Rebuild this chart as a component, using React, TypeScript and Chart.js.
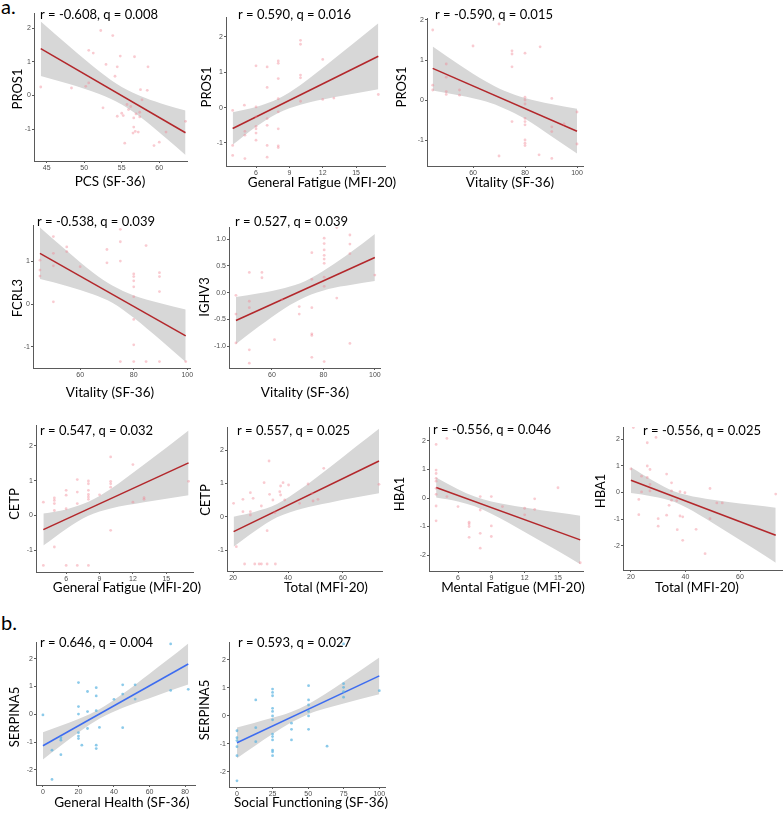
import React, { useEffect, useRef } from "react";
import { Chart, registerables } from "chart.js";

Chart.register(...registerables);

// ---------- Panel 1: PROS1 vs PCS (SF-36) ----------
const p1X = [44.2, 48.3, 50.2, 50.6, 50.6, 51.2, 52.2, 53.8, 52.9, 54.4, 54.8, 54.1, 56.7, 52.5, 54.4, 55.0, 55.2, 55.9, 55.7, 55.4, 56.2, 56.6, 56.6, 56.8, 56.5, 57.2, 57.4, 57.7, 57.5, 58.4, 58.5, 57.4, 59.3, 60.0, 60.9, 63.5, 56.9];
const p1Y = [0.25, 0.22, 0.27, 0.37, 1.34, 1.26, 1.93, 1.78, 0.92, 0.85, 1.17, 0.57, 1.15, -0.37, -0.62, -0.53, -0.6, -0.42, -0.27, -1.42, -0.33, -0.67, -0.94, -1.07, -1.12, -1.09, -0.64, -0.13, 0.17, 0.15, 0.85, -0.5, -1.49, -1.39, -1.09, -0.77, -0.55];
const p1LineX = [44.2, 63.5];
const p1LineY = [1.39, -1.11];
const p1BandX = [44.2, 48, 52, 55, 58, 61, 63.5];
const p1BandU = [2.2, 1.46, 0.72, 0.25, -0.06, -0.29, -0.45];
const p1BandL = [0.58, 0.34, 0.04, -0.27, -0.73, -1.29, -1.77];

// ---------- Panel 2: PROS1 vs General Fatigue (MFI-20) ----------
const p2X = [3.9, 3.9, 3.9, 4.95, 5, 5, 5, 6, 6, 6, 6, 6, 6, 6, 7, 7, 7, 7, 7, 7, 8, 8, 8, 8, 8, 8, 8, 8, 10, 10, 10, 10, 10, 12, 12, 13, 17];
const p2Y = [-0.08, -1.07, -1.35, 0.07, -0.67, -0.78, -1.44, 1.18, 0.02, -0.26, -0.53, -0.6, -0.72, -0.92, 1.15, 0.57, -0.31, -0.5, -1.07, -1.4, 1.32, 1.25, 0.82, 0.25, -0.12, -0.6, -1.08, -1.13, 1.9, 1.79, 0.92, 0.84, 0.18, 1.36, 0.23, 0.27, 0.37];
const p2LineX = [3.9, 17];
const p2LineY = [-0.59, 1.45];
const p2BandX = [3.9, 6, 8, 10, 13, 17];
const p2BandU = [-0.13, 0.02, 0.25, 0.64, 1.37, 2.38];
const p2BandL = [-1.05, -0.54, -0.15, 0.08, 0.29, 0.52];

// ---------- Panel 3: PROS1 vs Vitality (SF-36) ----------
const p3X = [44.5, 44.5, 44.5, 49.7, 49.7, 49.7, 49.7, 54.8, 54.8, 60, 70, 70, 75, 75, 75, 75, 80, 80, 80, 80, 80, 80, 80, 80, 80, 80, 85.8, 85.4, 90.3, 90.3, 90.3, 90.3, 95, 100, 100];
const p3Y = [1.75, 0.37, 0.25, 0.9, 0.57, 0.21, 0.14, 0.25, 0.12, 1.35, 1.9, -1.4, 1.23, 1.15, 0.83, -0.54, 1.17, 0.07, 0.0, -0.1, -0.46, -0.54, -0.62, -1.0, -1.08, -1.14, 1.33, -1.37, 0.04, -0.67, -0.79, -1.46, -0.6, -0.3, -1.1];
const p3LineX = [44.5, 100];
const p3LineY = [0.79, -0.78];
const p3BandX = [44.5, 55, 65, 72, 80, 90, 100];
const p3BandU = [1.34, 0.87, 0.46, 0.23, 0.05, -0.1, -0.22];
const p3BandL = [0.24, 0.11, -0.04, -0.21, -0.47, -0.9, -1.34];

// ---------- Panel 4: FCRL3 vs Vitality (SF-36) ----------
const p4X = [45, 45, 45, 50, 50, 50, 50, 55, 55, 60, 70, 70, 75, 75, 75, 75, 80, 80, 80, 80, 80, 80, 80, 80, 84.6, 84.6, 89.6, 89.6, 89.6, 89.6, 99.4];
const p4Y = [1.02, 0.79, 0.65, 1.57, 1.18, 0.89, 0.05, 1.33, 1.22, 0.87, 1.27, 0.96, 1.74, 1.45, 1.0, -1.34, 0.7, 0.64, 0.54, 0.4, 0.17, -0.36, -0.95, -1.34, 1.36, -1.34, 0.73, 0.64, 0.29, -1.34, -1.34];
const p4LineX = [45, 99.4];
const p4LineY = [1.18, -0.74];
const p4BandX = [45, 55, 65, 72, 80, 90, 99.4];
const p4BandU = [1.78, 1.24, 0.72, 0.43, 0.2, 0.02, -0.13];
const p4BandL = [0.58, 0.42, 0.22, 0.03, -0.32, -0.84, -1.35];

// ---------- Panel 5: IGHV3 vs Vitality (SF-36) ----------
const p5X = [46, 46, 46, 51.2, 51.2, 51.2, 51.2, 51.2, 56.1, 56.1, 61, 63.9, 70.6, 70.6, 75.5, 75.5, 75.5, 75.5, 75.5, 75.5, 80.3, 80.3, 80.3, 80.3, 80.3, 80.3, 80.3, 80.3, 80.3, 85.2, 85.2, 90.3, 90.3, 90.3, 90.3, 100];
const p5Y = [-0.05, -0.4, -0.94, 0.38, -0.16, -0.28, -1.07, -1.32, 0.38, 0.28, -0.88, -0.13, -0.26, -0.4, 0.75, 0.25, -0.28, -0.77, -0.8, -1.21, 1.02, 0.92, 0.8, 0.7, 0.63, 0.55, 0.29, 0.12, -1.29, 1.22, -0.1, 1.08, 0.91, 0.73, -0.95, 0.33];
const p5LineX = [46, 100];
const p5LineY = [-0.52, 0.66];
const p5BandX = [46, 55, 65, 73, 82, 91, 100];
const p5BandU = [-0.08, -0.01, 0.09, 0.22, 0.47, 0.77, 1.1];
const p5BandL = [-0.96, -0.63, -0.29, -0.08, 0.07, 0.15, 0.22];

// ---------- Panel 6: CETP vs General Fatigue (MFI-20) ----------
const p6X = [3.95, 3.95, 4.94, 4.94, 4.94, 4.94, 4.94, 6, 6, 6, 6, 7, 7, 7, 7, 8, 8, 8, 8, 8, 8, 8, 9, 10, 10, 10, 10, 10, 12, 12, 13, 13, 17];
const p6Y = [0.38, -1.44, 0.5, 0.43, 0.34, 0.14, -0.91, 0.72, 0.58, 0.19, -1.44, 1.03, 0.67, 0.34, -1.44, 0.99, 0.91, 0.72, 0.6, 0.53, 0.46, -1.44, 0.59, 1.68, 0.98, 0.91, 0.81, -0.43, 1.46, 0.38, 0.51, 0.46, 0.98];
const p6LineX = [3.95, 17];
const p6LineY = [-0.41, 1.51];
const p6BandX = [3.95, 6, 8, 10, 13, 17];
const p6BandU = [0.05, 0.17, 0.39, 0.76, 1.46, 2.44];
const p6BandL = [-0.87, -0.39, -0.01, 0.2, 0.38, 0.58];

// ---------- Panel 7: CETP vs Total (MFI-20) ----------
const p7X = [20.2, 21.2, 23.6, 23.6, 24.2, 26.3, 26.3, 26.3, 27.3, 27.9, 29.5, 30.3, 30.3, 31.3, 32.4, 32.4, 33.1, 33.3, 34.5, 35.2, 35.4, 37, 37.3, 37.3, 38.2, 38.8, 40.2, 44.2, 47.3, 48.8, 49.1, 50.9, 53, 73.1];
const p7Y = [0.4, -0.9, 0.52, 0.15, -1.42, 0.72, 0.15, 0.05, 0.55, -1.42, -1.42, -1.42, 0.32, 1.02, -0.42, -1.42, 1.67, 0.67, 0.5, 0.12, -1.42, 0.75, 0.92, 0.65, 1.02, 0.5, 0.95, 0.4, 0.98, 0.7, 0.47, 0.52, 1.45, 0.97];
const p7LineX = [20.2, 73.1];
const p7LineY = [-0.45, 1.67];
const p7BandX = [20.2, 28, 36, 45, 55, 65, 73.1];
const p7BandU = [0.0, 0.15, 0.38, 0.85, 1.47, 2.12, 2.64];
const p7BandL = [-0.9, -0.43, -0.02, 0.24, 0.42, 0.58, 0.7];

// ---------- Panel 8: HBA1 vs Mental Fatigue (MFI-20) ----------
const p8X = [4.03, 4.03, 4.03, 4.03, 4.03, 4.03, 4.03, 4.03, 4.03, 5, 5, 6, 7, 7, 7, 7, 8, 8, 8, 8, 9, 9, 9, 10, 12, 12, 12.9, 12.9, 15, 17];
const p8Y = [1.88, 0.98, 0.86, 0.69, 0.59, 0.34, 0.13, -0.28, -0.8, 2.09, 0.05, -0.3, -0.85, -0.91, -1.0, -1.38, 0.05, -0.42, -1.24, -1.76, 0.05, -0.98, -1.35, -0.3, -0.36, -0.59, -0.03, -0.4, 0.36, -2.27];
const p8LineX = [4.03, 17];
const p8LineY = [0.37, -1.47];
const p8BandX = [4.03, 6, 7.5, 9, 12, 15, 17];
const p8BandU = [0.72, 0.31, 0.05, -0.12, -0.33, -0.51, -0.62];
const p8BandL = [0.02, -0.12, -0.29, -0.55, -1.19, -1.86, -2.32];

// ---------- Panel 9: HBA1 vs Total (MFI-20) ----------
const p9X = [20, 20.9, 22.9, 22.9, 23.9, 23.9, 26, 26, 26, 27, 27, 27, 29.2, 30, 30, 33.1, 33.1, 34, 34.9, 34.9, 34.9, 36.8, 37, 38, 38, 39, 39, 39.8, 43.9, 47.2, 49, 49, 51.5, 53.5, 73.1];
const p9Y = [0.88, 2.43, -0.26, -0.83, 0.61, 0.02, 1.86, 0.99, 0.56, 0.86, 0.3, 0.06, 2.06, -0.98, -1.26, 0.69, -0.85, -0.48, 0.36, 0.06, -0.29, -0.31, -1.39, 0.03, -0.88, -0.91, -1.79, -0.01, -1.38, -2.29, 0.15, -0.98, -0.39, -0.39, -0.06];
const p9LineX = [20, 73.1];
const p9LineY = [0.46, -1.6];
const p9BandX = [20, 28, 36, 45, 55, 65, 73.1];
const p9BandU = [0.94, 0.45, 0.04, -0.19, -0.35, -0.47, -0.57];
const p9BandL = [-0.02, -0.15, -0.36, -0.83, -1.46, -2.1, -2.63];

// ---------- Panel 10: SERPINA5 vs General Health (SF-36) ----------
const p10X = [0, 5.1, 5.1, 10.1, 10.1, 10.1, 20, 20, 20, 20, 20, 20, 21.9, 25.1, 25.1, 25.1, 30, 30, 30, 30, 30, 31.8, 40, 44.9, 44.9, 44.9, 51.9, 51.9, 71.9, 71.9, 81.8];
const p10Y = [-0.02, -1.29, -2.34, -0.84, -0.93, -1.45, 1.14, 0.28, 0.01, -0.66, -0.78, -0.87, -1.11, 0.82, 0.1, -0.51, 0.96, 0.66, 0.13, -1.11, -1.23, -0.47, 0.54, 1.06, 0.73, -0.48, 1.06, 0.55, 2.53, 0.86, 0.9];
const p10LineX = [0, 81.8];
const p10LineY = [-1.13, 1.81];
const p10BandX = [0, 10, 20, 32, 45, 60, 70, 81.8];
const p10BandU = [-0.64, -0.41, -0.17, 0.19, 0.74, 1.46, 1.95, 2.55];
const p10BandL = [-1.62, -1.13, -0.65, -0.15, 0.24, 0.58, 0.81, 1.07];

// ---------- Panel 11: SERPINA5 vs Social Functioning (SF-36) ----------
const p11X = [0, 0, 0, 0, 0, 0, 13.2, 13.2, 13.2, 25, 25, 25, 25, 25, 25, 25, 25, 25, 25, 25, 25, 25, 38.3, 38.3, 38.3, 50.3, 50.3, 50.3, 50.3, 50.3, 50.3, 63.3, 74.9, 74.9, 74.9, 74.9, 74.9, 100];
const p11Y = [-0.53, -0.78, -0.88, -1.1, -1.42, -2.32, 0.57, -0.42, -0.92, 0.96, 0.84, 0.72, 0.27, 0.16, 0.0, -0.14, -0.65, -0.74, -0.86, -1.22, -1.28, -1.42, -0.26, -0.48, -0.86, 1.08, 0.57, 0.39, 0.16, 0.0, -0.48, -1.08, 2.57, 1.15, 1.02, 0.87, 0.67, 0.9];
const p11LineX = [0, 100];
const p11LineY = [-0.96, 1.43];
const p11BandX = [0, 12, 25, 38, 50, 62, 75, 100];
const p11BandU = [-0.41, -0.25, -0.07, 0.14, 0.42, 0.78, 1.22, 2.09];
const p11BandL = [-1.51, -1.09, -0.65, -0.24, 0.06, 0.26, 0.44, 0.77];

// Tick values
const ticksFat = [6, 9, 12, 15];
const ticksVit = [60, 80, 100];
const ticksTot = [20, 40, 60];
const ticksPcs = [45, 50, 55, 60];
const ticksGh = [0, 20, 40, 60, 80];
const ticksSf = [0, 25, 50, 75, 100];
const yTicks4 = [-1, 0, 1, 2];
const yTicks3 = [-1, 0, 1];
const yTicksHalf = [-1, -0.5, 0, 0.5, 1];
const yTicks5 = [-2, -1, 0, 1, 2];

// ---------- styling ----------
const RED_PT = "rgba(240, 130, 145, 0.42)";
const RED_LINE = "#B3272B";
const BLUE_PT = "rgba(90, 180, 225, 0.7)";
const BLUE_LINE = "#3D6CF0";
const BAND = "#D7D7D7";
const AXIS = "#5a5a5a";
const TICK = "#4d4d4d";
const TEXT_FONT = "Lato, 'Open Sans', sans-serif";
const YW = 42;
const XH = 40;
const PT = 12;
const PR = 22;

type Spec = {
  l: number; t: number; r: number; b: number;
  xMin: number; xMax: number; yMin: number; yMax: number;
  xTicks: number[]; yTicks: number[]; yDec?: boolean;
  xs: number[]; ys: number[];
  lineX: number[]; lineY: number[];
  bandX: number[]; bandU: number[]; bandL: number[];
  xTitle: string; yTitle: string;
  xtx: number; xty: number; ytx: number; yty: number;
  note: string; ndx: number; ndy: number; blue?: boolean;
};

const SPECS: Spec[] = [
  { l: 34, t: 13, r: 187, b: 161, xMin: 43.3, xMax: 63.7, yMin: -1.95, yMax: 2.45, xTicks: ticksPcs, yTicks: yTicks4,
    xs: p1X, ys: p1Y, lineX: p1LineX, lineY: p1LineY, bandX: p1BandX, bandU: p1BandU, bandL: p1BandL,
    xTitle: "PCS (SF-36)", yTitle: "PROS1", xtx: 110, xty: 182, ytx: 18, yty: 89, note: "r = -0.608, q = 0.008", ndx: 6, ndy: 2 },
  { l: 226, t: 17, r: 385, b: 166, xMin: 3.3, xMax: 17.6, yMin: -1.65, yMax: 2.56, xTicks: ticksFat, yTicks: yTicks4,
    xs: p2X, ys: p2Y, lineX: p2LineX, lineY: p2LineY, bandX: p2BandX, bandU: p2BandU, bandL: p2BandL,
    xTitle: "General Fatigue (MFI-20)", yTitle: "PROS1", xtx: 322, xty: 183, ytx: 207, yty: 87, note: "r = 0.590, q = 0.016", ndx: 12, ndy: -2 },
  { l: 427, t: 18, r: 583, b: 166, xMin: 42.3, xMax: 102.3, yMin: -1.65, yMax: 2.05, xTicks: ticksVit, yTicks: yTicks4,
    xs: p3X, ys: p3Y, lineX: p3LineX, lineY: p3LineY, bandX: p3BandX, bandU: p3BandU, bandL: p3BandL,
    xTitle: "Vitality (SF-36)", yTitle: "PROS1", xtx: 510, xty: 183, ytx: 402, yty: 87, note: "r = -0.590, q = 0.015", ndx: 8, ndy: -3 },
  { l: 33, t: 225, r: 190, b: 368, xMin: 42.4, xMax: 101, yMin: -1.49, yMax: 1.84, xTicks: ticksVit, yTicks: yTicks3,
    xs: p4X, ys: p4Y, lineX: p4LineX, lineY: p4LineY, bandX: p4BandX, bandU: p4BandU, bandL: p4BandL,
    xTitle: "Vitality (SF-36)", yTitle: "FCRL3", xtx: 110, xty: 393, ytx: 18, yty: 298, note: "r = -0.538, q = 0.039", ndx: 4, ndy: -3 },
  { l: 229, t: 227, r: 380, b: 368, xMin: 43.3, xMax: 102, yMin: -1.41, yMax: 1.23, xTicks: ticksVit, yTicks: yTicksHalf, yDec: true,
    xs: p5X, ys: p5Y, lineX: p5LineX, lineY: p5LineY, bandX: p5BandX, bandU: p5BandU, bandL: p5BandL,
    xTitle: "Vitality (SF-36)", yTitle: "IGHV3", xtx: 305, xty: 393, ytx: 205, yty: 297, note: "r = 0.527, q = 0.039", ndx: 6, ndy: -5 },
  { l: 36, t: 425, r: 193, b: 572, xMin: 3.29, xMax: 17.4, yMin: -1.63, yMax: 2.6, xTicks: ticksFat, yTicks: yTicks4,
    xs: p6X, ys: p6Y, lineX: p6LineX, lineY: p6LineY, bandX: p6BandX, bandU: p6BandU, bandL: p6BandL,
    xTitle: "General Fatigue (MFI-20)", yTitle: "CETP", xtx: 127, xty: 588, ytx: 15, yty: 504, note: "r = 0.547, q = 0.032", ndx: 4, ndy: 6 },
  { l: 227, t: 427, r: 382, b: 571, xMin: 17.8, xMax: 74.2, yMin: -1.63, yMax: 2.69, xTicks: ticksTot, yTicks: yTicks4,
    xs: p7X, ys: p7Y, lineX: p7LineX, lineY: p7LineY, bandX: p7BandX, bandU: p7BandU, bandL: p7BandL,
    xTitle: "Total (MFI-20)", yTitle: "CETP", xtx: 326, xty: 588, ytx: 206, yty: 500, note: "r = 0.557, q = 0.025", ndx: 10, ndy: 4 },
  { l: 429, t: 427, r: 583, b: 571, xMin: 3.39, xMax: 17.25, yMin: -2.56, yMax: 2.49, xTicks: ticksFat, yTicks: yTicks5,
    xs: p8X, ys: p8Y, lineX: p8LineX, lineY: p8LineY, bandX: p8BandX, bandU: p8BandU, bandL: p8BandL,
    xTitle: "Mental Fatigue (MFI-20)", yTitle: "HBA1", xtx: 513, xty: 588, ytx: 400, yty: 494, note: "r = -0.556, q = 0.046", ndx: 4, ndy: 3 },
  { l: 623, t: 427, r: 782, b: 570, xMin: 17.1, xMax: 75.4, yMin: -2.9, yMax: 2.45, xTicks: ticksTot, yTicks: yTicks5,
    xs: p9X, ys: p9Y, lineX: p9LineX, lineY: p9LineY, bandX: p9BandX, bandU: p9BandU, bandL: p9BandL,
    xTitle: "Total (MFI-20)", yTitle: "HBA1", xtx: 697, xty: 588, ytx: 601, yty: 491, note: "r = -0.556, q = 0.025", ndx: 20, ndy: 4 },
  { l: 36, t: 642, r: 195, b: 785, xMin: -3.9, xMax: 85.6, yMin: -2.54, yMax: 2.6, xTicks: ticksGh, yTicks: yTicks5,
    xs: p10X, ys: p10Y, lineX: p10LineX, lineY: p10LineY, bandX: p10BandX, bandU: p10BandU, bandL: p10BandL,
    xTitle: "General Health (SF-36)", yTitle: "SERPINA5", xtx: 122, xty: 803, ytx: 15, yty: 717, note: "r = 0.646, q = 0.004", ndx: 4, ndy: 1, blue: true },
  { l: 229, t: 642, r: 385, b: 787, xMin: -5.6, xMax: 104, yMin: -2.54, yMax: 2.64, xTicks: ticksSf, yTicks: yTicks5,
    xs: p11X, ys: p11Y, lineX: p11LineX, lineY: p11LineY, bandX: p11BandX, bandU: p11BandU, bandL: p11BandL,
    xTitle: "Social Functioning (SF-36)", yTitle: "SERPINA5", xtx: 311, xty: 803, ytx: 205, yty: 710, note: "r = 0.593, q = 0.027", ndx: 9, ndy: 1, blue: true },
];

// Draws the correlation note and both axis titles at the positions the figure uses.
const panelTextPlugin = {
  id: "panelText",
  afterDraw(chart: any, _args: any, o: any) {
    if (!o || !o.note) return;
    const { ctx, chartArea } = chart;
    const ox = o.ox;
    const oy = o.oy;
    ctx.save();
    ctx.fillStyle = "#000";
    ctx.textBaseline = "middle";
    ctx.textAlign = "left";
    ctx.font = `13px ${TEXT_FONT}`;
    ctx.fillText(o.note, chartArea.left + o.ndx, chartArea.top + o.ndy);
    ctx.textAlign = "center";
    ctx.font = `13.5px ${TEXT_FONT}`;
    ctx.fillText(o.xTitle, o.xtx - ox, o.xty - oy);
    ctx.translate(o.ytx - ox, o.yty - oy);
    ctx.rotate(-Math.PI / 2);
    ctx.font = `13px ${TEXT_FONT}`;
    ctx.fillText(o.yTitle, 0, 0);
    ctx.restore();
  },
};

function Panel({ s }: { s: Spec }) {
  const ref = useRef<HTMLCanvasElement | null>(null);
  const W = s.r - s.l + YW + PR;
  const H = s.b - s.t + PT + XH;
  const ox = s.l - YW;
  const oy = s.t - PT;
  useEffect(() => {
    const pts = (xs: number[], ys: number[]) => xs.map((x, i) => ({ x, y: ys[i] }));
    const tickFont = { family: "'Liberation Sans', Arial, sans-serif", size: 7 };
    const chart = new Chart(ref.current as HTMLCanvasElement, {
      type: "line",
      data: {
        datasets: [
          { data: pts(s.xs, s.ys), showLine: false, pointRadius: 1.4, pointHoverRadius: 1.4,
            pointBackgroundColor: s.blue ? BLUE_PT : RED_PT, pointBorderWidth: 0, borderColor: "rgba(0,0,0,0)", order: 0 } as any,
          { data: pts(s.lineX, s.lineY), borderColor: s.blue ? BLUE_LINE : RED_LINE, borderWidth: 1.5,
            pointRadius: 0, fill: false, order: 1 } as any,
          { data: pts(s.bandX, s.bandU), borderColor: "rgba(0,0,0,0)", borderWidth: 0, pointRadius: 0,
            fill: "+1", backgroundColor: BAND, cubicInterpolationMode: "monotone", order: 2 } as any,
          { data: pts(s.bandX, s.bandL), borderColor: "rgba(0,0,0,0)", borderWidth: 0, pointRadius: 0,
            fill: false, cubicInterpolationMode: "monotone", order: 3 } as any,
        ],
      },
      options: {
        animation: false,
        responsive: false,
        maintainAspectRatio: false,
        devicePixelRatio: 1,
        layout: { padding: { top: PT, right: PR, left: 0, bottom: 0 } },
        plugins: {
          legend: { display: false },
          tooltip: { enabled: false },
          panelText: {
            note: s.note, ndx: s.ndx, ndy: s.ndy,
            xTitle: s.xTitle, xtx: s.xtx, xty: s.xty,
            yTitle: s.yTitle, ytx: s.ytx, yty: s.yty,
            ox, oy,
          },
        } as any,
        scales: {
          x: {
            type: "linear",
            min: s.xMin,
            max: s.xMax,
            afterBuildTicks: (sc: any) => { sc.ticks = s.xTicks.map((v) => ({ value: v })); },
            afterFit: (sc: any) => { sc.height = XH; },
            border: { display: true, color: AXIS, width: 1 },
            grid: { drawOnChartArea: false, drawTicks: true, tickLength: 2, color: AXIS, lineWidth: 1 },
            ticks: { font: tickFont, color: TICK, padding: 1, maxRotation: 0, autoSkip: false,
              callback: (v: any) => String(v) },
            title: { display: false },
          },
          y: {
            type: "linear",
            min: s.yMin,
            max: s.yMax,
            afterBuildTicks: (sc: any) => { sc.ticks = s.yTicks.map((v) => ({ value: v })); },
            afterFit: (sc: any) => { sc.width = YW; },
            border: { display: true, color: AXIS, width: 1 },
            grid: { drawOnChartArea: false, drawTicks: true, tickLength: 2, color: AXIS, lineWidth: 1 },
            ticks: { font: tickFont, color: TICK, padding: 1, autoSkip: false,
              callback: (v: any) => (s.yDec ? Number(v).toFixed(1) : String(v)) },
            title: { display: false },
          },
        } as any,
      },
      plugins: [panelTextPlugin],
    });
    return () => chart.destroy();
  }, [s]);
  return (
    <canvas
      ref={ref}
      width={W}
      height={H}
      style={{ position: "absolute", left: ox, top: oy, width: W, height: H }}
    />
  );
}

export default function App() {
  const labelStyle: React.CSSProperties = {
    position: "absolute",
    left: 1,
    fontFamily: TEXT_FONT,
    fontSize: 20,
    lineHeight: "20px",
    color: "#000",
  };
  return (
    <div style={{ position: "absolute", left: 0, top: 0, width: 784, height: 814, background: "#fff", overflow: "hidden" }}>
      <div style={{ ...labelStyle, top: -4 }}>a.</div>
      <div style={{ ...labelStyle, top: 612 }}>b.</div>
      {SPECS.map((s, i) => (
        <Panel key={i} s={s} />
      ))}
    </div>
  );
}
